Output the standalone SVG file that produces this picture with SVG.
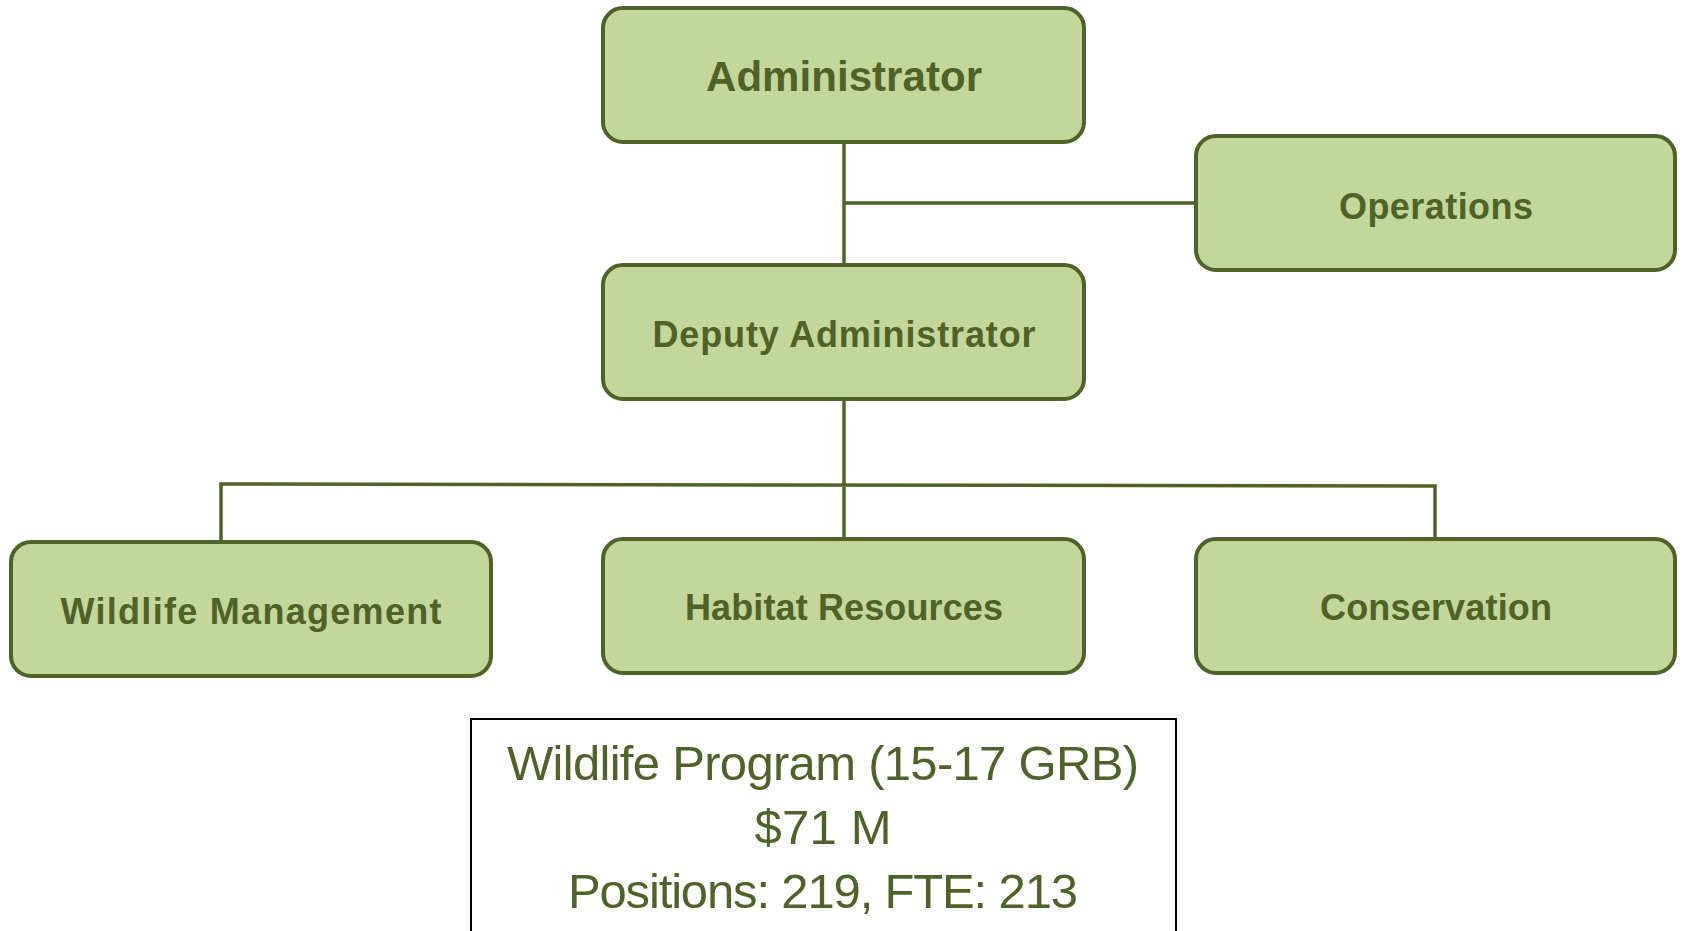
<svg xmlns="http://www.w3.org/2000/svg" width="1683" height="931" viewBox="0 0 1683 931">
<style>
.box{fill:#c4d79b;stroke:#4f6228;stroke-width:4}
.lbl{font-family:"Liberation Sans",Arial,sans-serif;font-weight:bold;fill:#4f6228;text-anchor:middle;font-size:36px}
.big{font-size:42px}
.con{fill:none;stroke:#4f6228;stroke-width:3.5}
.info{font-family:"Liberation Sans",Arial,sans-serif;fill:#4f6228;text-anchor:middle;font-size:49px}
</style>
<rect width="1683" height="931" fill="#ffffff"/>
<g id="connectors">
<path class="con" d="M844 142 V265 M844 203 H1196 M844 399 V539 M221 542 V484 L1435 486 V539"/>
</g>
<g id="administrator"><rect class="box" x="603" y="8" width="481" height="134" rx="20"/><text class="lbl big" x="844" y="91" textLength="276">Administrator</text></g>
<g id="operations"><rect class="box" x="1196" y="136" width="479" height="134" rx="20"/><text class="lbl" x="1436" y="219" textLength="194">Operations</text></g>
<g id="deputy"><rect class="box" x="603" y="265" width="481" height="134" rx="20"/><text class="lbl" x="844" y="347" textLength="383">Deputy Administrator</text></g>
<g id="wildlife"><rect class="box" x="11" y="542" width="480" height="134" rx="20"/><text class="lbl" x="251" y="624" textLength="381">Wildlife Management</text></g>
<g id="habitat"><rect class="box" x="603" y="539" width="481" height="134" rx="20"/><text class="lbl" x="844" y="620" textLength="318">Habitat Resources</text></g>
<g id="conservation"><rect class="box" x="1196" y="539" width="479" height="134" rx="20"/><text class="lbl" x="1436" y="620" textLength="232">Conservation</text></g>
<g id="summary">
<rect x="471" y="719" width="705" height="230" fill="#ffffff" stroke="#000000" stroke-width="2"/>
<text class="info" x="823" y="780" textLength="632">Wildlife Program (15-17 GRB)</text>
<text class="info" x="823" y="844" textLength="137">$71 M</text>
<text class="info" x="823" y="908" textLength="510">Positions: 219, FTE: 213</text>
</g>
</svg>
